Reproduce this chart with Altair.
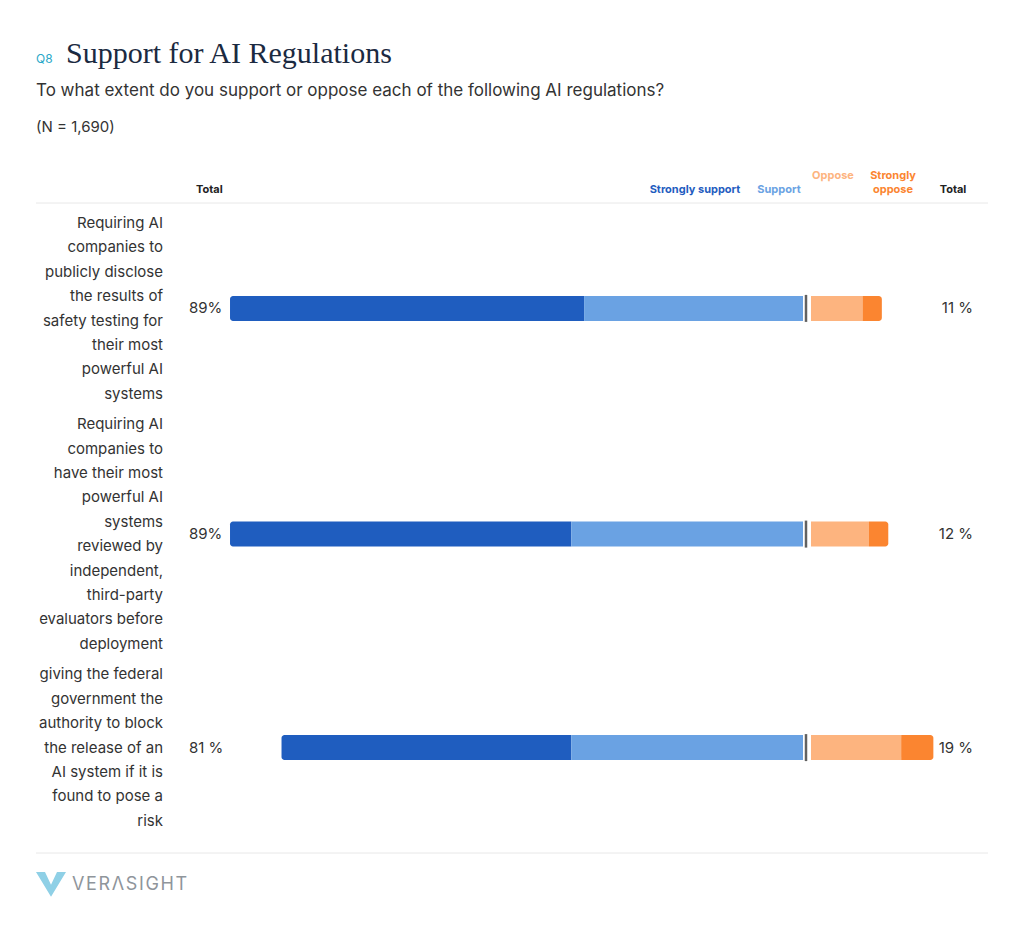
import altair as alt
import pandas as pd

# ---------------- data ----------------
keys = ["q1", "q2", "q3"]
labels = [
    "Requiring AI|companies to|publicly disclose|the results of|safety testing for|their most|powerful AI|systems",
    "Requiring AI|companies to|have their most|powerful AI|systems|reviewed by|independent,|third-party|evaluators before|deployment",
    "giving the federal|government the|authority to block|the release of an|AI system if it is|found to pose a|risk",
]
strongly_support = [55, 53, 45]
support = [34, 36, 36]
oppose = [8, 9, 14]
strongly_oppose = [3, 3, 5]
support_total_labels = ["89%", "89%", "81 %"]
oppose_total_labels = ["11 %", "12 %", "19 %"]

df = pd.DataFrame({
    "key": keys,
    "label": labels,
    "ss": strongly_support,
    "s": support,
    "o": oppose,
    "so": strongly_oppose,
    "left_total": support_total_labels,
    "right_total": oppose_total_labels,
})
df["ss_start"] = -(df["ss"] + df["s"])
df["ss_end"] = -df["s"]
df["s_start"] = -df["s"]
df["s_end"] = 0
df["o_start"] = 0
df["o_end"] = df["o"]
df["so_start"] = df["o"]
df["so_end"] = df["o"] + df["so"]

# row position in "text line" units: each row is as tall as its wrapped label
GAP_LINES = 0.25
n_lines = [len(l.split("|")) for l in labels]
centers, acc = [], 0.0
for n in n_lines:
    centers.append(acc + (n - 1) / 2)
    acc += n + GAP_LINES
df["n_lines"] = n_lines
df["row"] = centers

# ---------------- styles ----------------
C_SS = "#1f5dbf"
C_S = "#6aa2e3"
C_O = "#fdb47f"
C_SO = "#fb8530"
FONT = "Inter"
TEXT_C = "#333333"
LINE_H = 24.4

XS = alt.Scale(domain=[-100, 0], range=[159.2, 803], padding=0, nice=False, zero=False)
XO = alt.Scale(domain=[0, 40], range=[811, 1068.6], padding=0, nice=False, zero=False)
YS = alt.Scale(domain=[0, 1], range=[223, 223 + LINE_H], zero=False, nice=False, padding=0)
Y = alt.Y("row:Q", scale=YS, axis=None)

base = alt.Chart(df)

bar_ss = base.mark_bar(size=25, color=C_SS, cornerRadiusTopLeft=3, cornerRadiusBottomLeft=3).encode(
    x=alt.X("ss_start:Q", scale=XS, axis=None), x2="ss_end:Q", y=Y)
bar_s = base.mark_bar(size=25, color=C_S).encode(
    x=alt.X("s_start:Q", scale=XS, axis=None), x2="s_end:Q", y=Y)
bar_o = base.mark_bar(size=25, color=C_O).encode(
    x=alt.X("o_start:Q", scale=XO, axis=None), x2="o_end:Q", y=Y)
bar_so = base.mark_bar(size=25, color=C_SO, cornerRadiusTopRight=3, cornerRadiusBottomRight=3).encode(
    x=alt.X("so_start:Q", scale=XO, axis=None), x2="so_end:Q", y=Y)

divider = base.mark_tick(orient="vertical", size=27, thickness=2.5, color="#1e1e1e").encode(
    x=alt.value(806), y=Y)

# one text layer per row so the multi-line block can be centred on its bar
row_labels = []
for k, lab, n in zip(keys, labels, n_lines):
    row_labels.append(
        base.transform_filter(alt.datum.key == k)
        .transform_calculate(lines="split(datum.label, '|')")
        .mark_text(align="right", baseline="middle", fontSize=15, lineHeight=LINE_H,
                   font=FONT, color=TEXT_C, dy=-(n - 1) / 2 * LINE_H)
        .encode(x=alt.value(163), y=Y, text="lines:N")
    )

left_tot = base.mark_text(align="left", baseline="middle", fontSize=15, font=FONT, color=TEXT_C).encode(
    x=alt.value(189), y=Y, text="left_total:N")
right_tot = base.mark_text(align="right", baseline="middle", fontSize=15, font=FONT, color=TEXT_C).encode(
    x=alt.value(973), y=Y, text="right_total:N")

one = alt.Data(values=[{"a": 1}])


def txt(s, x, y, size, color, weight="normal", align="left", baseline="middle", font=FONT):
    return alt.Chart(one).mark_text(
        text=s, fontSize=size, color=color, fontWeight=weight, align=align,
        baseline=baseline, font=font
    ).encode(x=alt.value(x), y=alt.value(y))


def hline(y, x1, x2, color="#e8e8e8"):
    return alt.Chart(one).mark_rule(color=color, strokeWidth=1).encode(
        x=alt.value(x1), x2=alt.value(x2), y=alt.value(y))


HS = "\u200a"  # hair space for the spaced-out logo lettering
texts = [
    txt("Q8", 36, 63, 12, "#2aa8c8", "normal", baseline="alphabetic"),
    txt("Support for AI Regulations", 66, 63, 30, "#1b2a41", "normal", baseline="alphabetic", font="Liberation Serif"),
    txt("To what extent do you support or oppose each of the following AI regulations?", 36, 91, 17, TEXT_C),
    txt("(N = 1,690)", 36, 127, 15, TEXT_C),
    txt("Total", 196, 190, 11, "#222222", "bold"),
    txt("Strongly support", 695, 190, 11, C_SS, "bold", align="center"),
    txt("Support", 779, 190, 11, C_S, "bold", align="center"),
    txt("Oppose", 833, 176, 11, C_O, "bold", align="center"),
    txt("Strongly", 893, 176, 11, C_SO, "bold", align="center"),
    txt("oppose", 893, 190, 11, C_SO, "bold", align="center"),
    txt("Total", 953, 190, 11, "#222222", "bold", align="center"),
    txt(HS.join("VERΛSIGHT"), 72, 885, 18, "#8f959b", "normal"),
]

logo = alt.Chart(one).mark_point(
    shape="M-1,-0.8L0,0.85L1,-0.8L0.4,-0.8L0,0.05L-0.4,-0.8Z",
    filled=True, size=900, color="#8fd0e6", opacity=1, strokeWidth=0
).encode(x=alt.value(51), y=alt.value(884))

chart = alt.layer(
    hline(203, 36, 988), hline(853, 36, 988),
    bar_ss, bar_s, bar_o, bar_so, divider,
    *row_labels, left_tot, right_tot,
    *texts, logo,
).resolve_scale(x="independent").properties(
    width=1024, height=935,
    autosize=alt.AutoSizeParams(type="none"),
    padding=0,
    background="white",
).configure_view(stroke=None)

chart.save("out.html", embed_options={"renderer": "svg", "actions": False})
